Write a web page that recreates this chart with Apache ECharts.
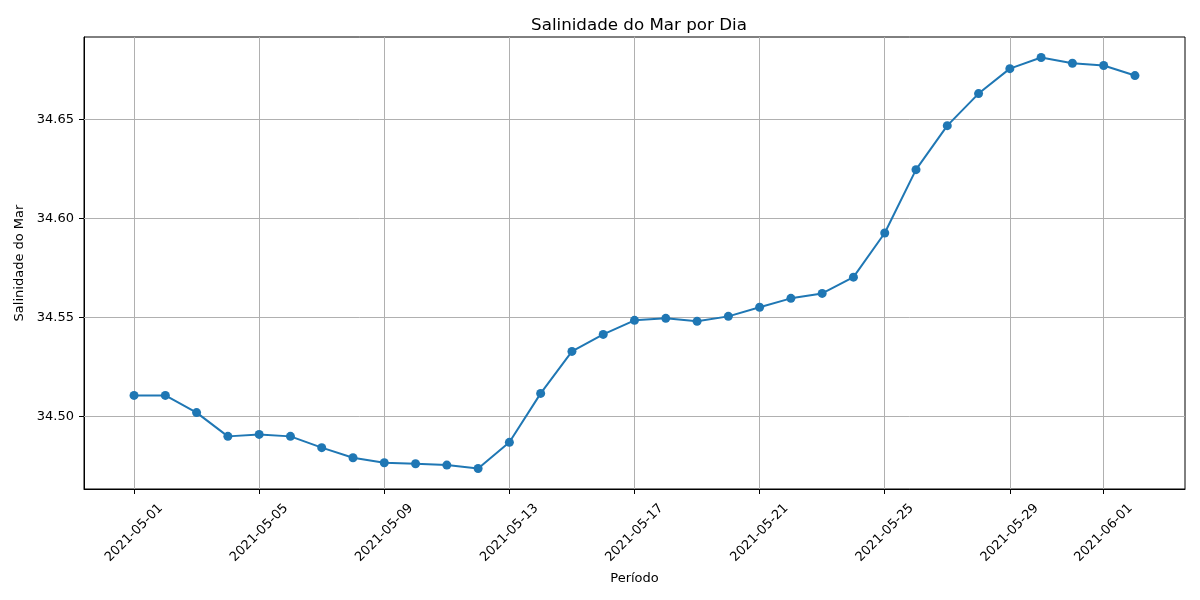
<!DOCTYPE html>
<html>
<head>
<meta charset="utf-8">
<script src="https://cdn.jsdelivr.net/npm/echarts@6/dist/echarts.min.js"></script>
<style>html,body{margin:0;padding:0;background:#fff}#c{width:1200px;height:600px}</style>
</head>
<body>
<div id="c"></div>
<script>
const dates = ["2021-05-01","2021-05-02","2021-05-03","2021-05-04","2021-05-05","2021-05-06","2021-05-07","2021-05-08","2021-05-09","2021-05-10","2021-05-11","2021-05-12","2021-05-13","2021-05-14","2021-05-15","2021-05-16","2021-05-17","2021-05-18","2021-05-19","2021-05-20","2021-05-21","2021-05-22","2021-05-23","2021-05-24","2021-05-25","2021-05-26","2021-05-27","2021-05-28","2021-05-29","2021-05-30","2021-05-31","2021-06-01","2021-06-02"];
const salinity = [34.5106,34.5106,34.5019,34.4899,34.4909,34.4899,34.4842,34.4791,34.4766,34.4761,34.4754,34.4737,34.4869,34.5116,34.5328,34.5414,34.5485,34.5495,34.5480,34.5505,34.5551,34.5596,34.5621,34.5703,34.5926,34.6246,34.6468,34.6630,34.6756,34.6812,34.6783,34.6772,34.6721];
const xTicks = ["2021-05-01","2021-05-05","2021-05-09","2021-05-13","2021-05-17","2021-05-21","2021-05-25","2021-05-29","2021-06-01"];
const yTicks = [34.50, 34.55, 34.60, 34.65];

const toT = s => Date.parse(s + "T00:00:00Z");
const fmt = t => new Date(t).toISOString().slice(0, 10);
const t0 = toT(dates[0]), t1 = toT(dates[dates.length - 1]);
const xPad = (t1 - t0) * 0.05;
const yMinD = Math.min(...salinity), yMaxD = Math.max(...salinity);
const yPad = (yMaxD - yMinD) * 0.05;

const chart = echarts.init(document.getElementById('c'), null, {renderer: 'canvas'});
const font = 'DejaVu Sans';
chart.setOption({
  animation: false,
  backgroundColor: '#fff',
  textStyle: {fontFamily: font},
  title: {
    text: 'Salinidade do Mar por Dia',
    left: 634, top: 12, textAlign: 'center',
    textStyle: {fontFamily: font, fontSize: 16.7, fontWeight: 'normal', color: '#000'}
  },
  grid: {left: 84, right: 15, top: 37, bottom: 111, show: true, borderColor: '#000', borderWidth: 1, backgroundColor: 'transparent'},
  xAxis: {
    type: 'value',
    min: t0 - xPad, max: t1 + xPad,
    name: 'Período', nameLocation: 'middle', nameGap: 83,
    nameTextStyle: {fontFamily: font, fontSize: 13, color: '#000'},
    axisLine: {show: true, lineStyle: {color: '#000', width: 1}},
    axisTick: {show: true, length: 5, lineStyle: {color: '#000'}, customValues: xTicks.map(toT)},
    axisLabel: {
      customValues: xTicks.map(toT), rotate: 45, align: 'center', verticalAlign: 'middle', margin: 44,
      formatter: v => fmt(v), fontFamily: font, fontSize: 13, color: '#000'
    },
    splitLine: {show: false}
  },
  yAxis: {
    type: 'value',
    min: yMinD - yPad, max: yMaxD + yPad,
    name: 'Salinidade do Mar', nameLocation: 'middle', nameGap: 56, nameRotate: 90,
    nameTextStyle: {fontFamily: font, fontSize: 13, color: '#000'},
    axisLine: {show: true, lineStyle: {color: '#000', width: 1}},
    axisTick: {show: true, length: 5, lineStyle: {color: '#000'}, customValues: yTicks},
    axisLabel: {customValues: yTicks, formatter: v => v.toFixed(2), margin: 10, fontFamily: font, fontSize: 13, color: '#000'},
    splitLine: {show: false}
  },
  series: [{
    type: 'line',
    data: dates.map((d, i) => [toT(d), salinity[i]]),
    symbol: 'circle', symbolSize: 9,
    lineStyle: {color: '#1f77b4', width: 2},
    itemStyle: {color: '#1f77b4'},
    z: 3,
    markLine: {
      silent: true, symbol: 'none', label: {show: false}, z: 1,
      lineStyle: {color: '#b0b0b0', width: 1, type: 'solid'},
      data: xTicks.map(d => ({xAxis: toT(d)})).concat(yTicks.map(v => ({yAxis: v})))
    }
  }]
});
</script>
</body>
</html>
